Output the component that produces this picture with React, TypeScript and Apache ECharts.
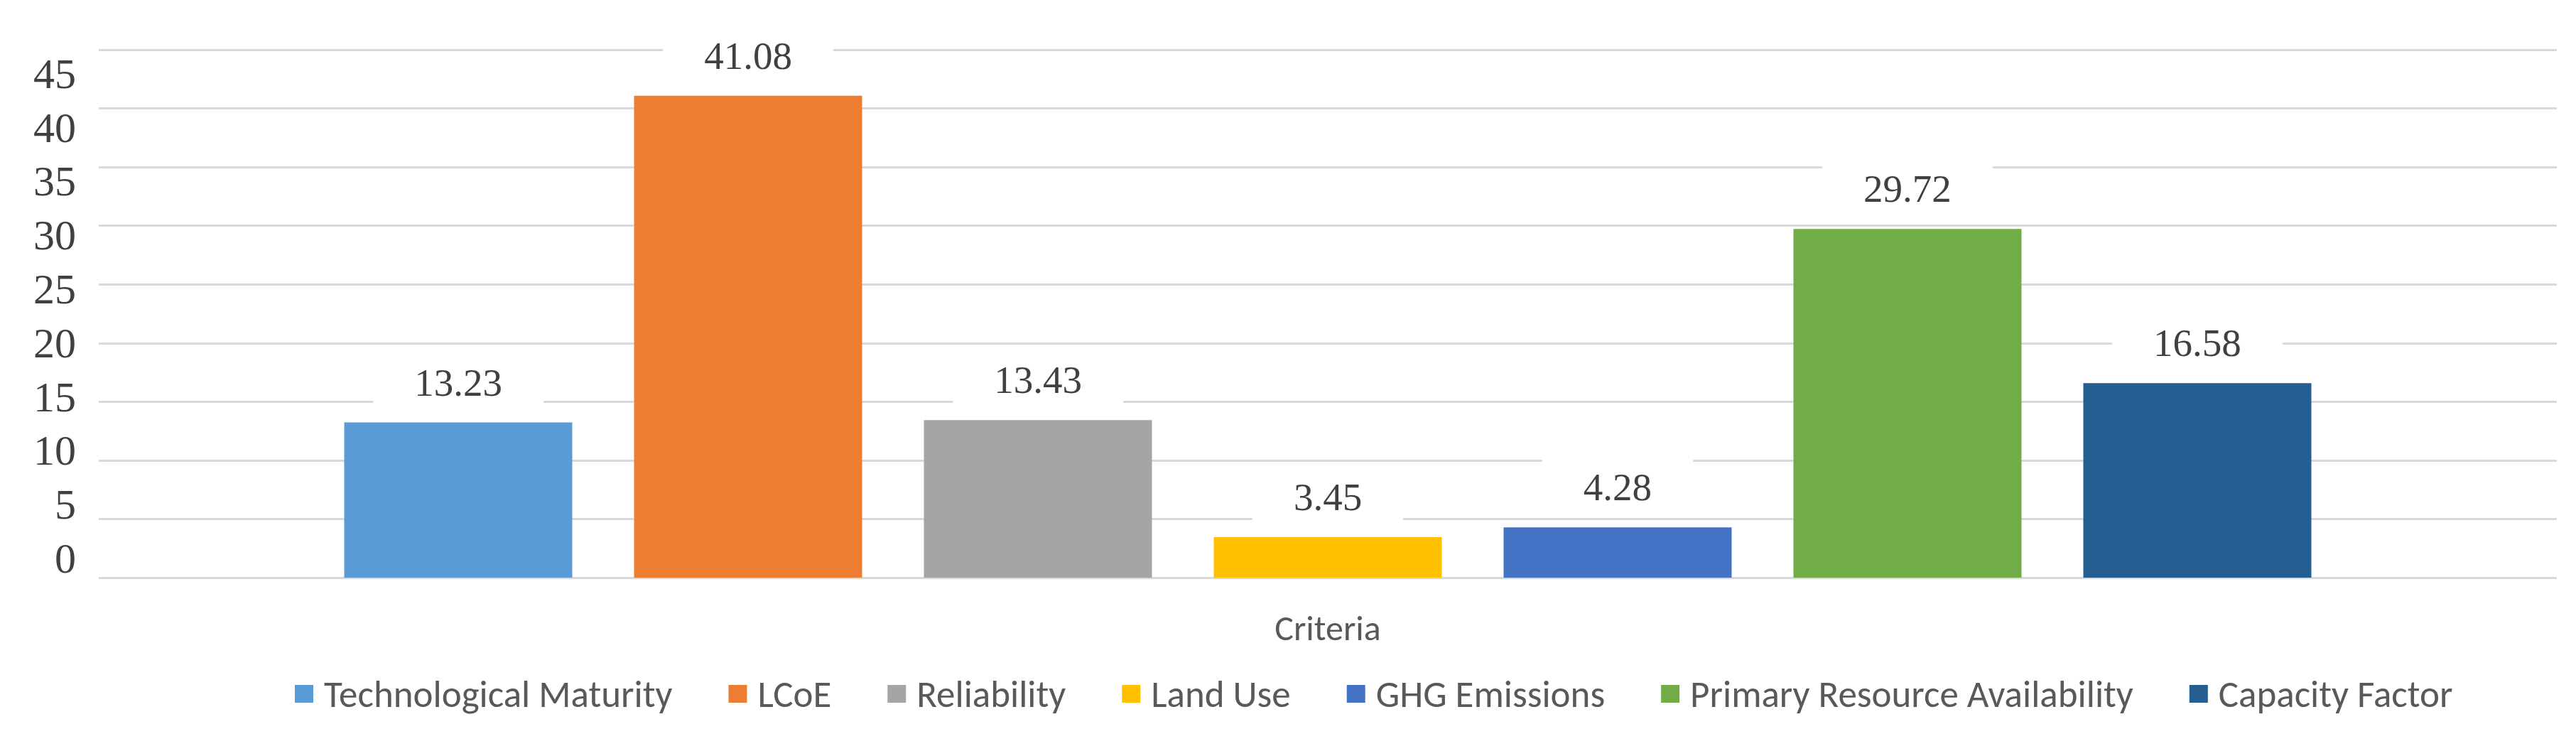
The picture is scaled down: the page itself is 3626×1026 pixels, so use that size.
import React, { useEffect, useRef } from "react";
import * as echarts from "echarts";

const categories = ["Criteria"];
const seriesNames = [
  "Technological Maturity",
  "LCoE",
  "Reliability",
  "Land Use",
  "GHG Emissions",
  "Primary Resource Availability",
  "Capacity Factor",
];
const seriesValues = [13.23, 41.08, 13.43, 3.45, 4.28, 29.72, 16.58];
const seriesColors = ["#5B9BD5", "#ED7D31", "#A5A5A5", "#FFC000", "#4472C4", "#70AD47", "#255E91"];
const yTickLabels = [0, 5, 10, 15, 20, 25, 30, 35, 40, 45];

const SERIF = "Liberation Serif";
const SANS = "Carlito";

export default function App() {
  const ref = useRef<HTMLDivElement>(null);
  useEffect(() => {
    if (!ref.current) return;
    const chart = echarts.init(ref.current, null, { renderer: "svg" });
    const option = {
      animation: false,
      backgroundColor: "#ffffff",
      textStyle: { fontFamily: SERIF },
      grid: { left: 139, right: 27, top: 70, bottom: 213, containLabel: false },
      legend: {
        left: 410,
        top: 945,
        icon: "rect",
        itemWidth: 26,
        itemHeight: 25,
        itemGap: 79,
        data: seriesNames,
        textStyle: {
          fontFamily: SANS,
          fontSize: 53,
          color: "#595959",
          padding: [0, 0, 0, 10],
          lineHeight: 53,
        },
      },
      xAxis: {
        type: "category",
        data: categories,
        axisLine: { show: false },
        axisTick: { show: false },
        axisLabel: {
          fontFamily: SANS,
          fontSize: 50,
          lineHeight: 50,
          color: "#595959",
          margin: 45,
        },
      },
      yAxis: [
        {
          type: "value",
          min: 0,
          max: 45,
          interval: 5,
          axisLine: { show: false },
          axisTick: { show: false },
          axisLabel: { show: false },
          splitLine: { show: true, lineStyle: { color: "#D9D9D9", width: 3 } },
        },
        {
          type: "value",
          position: "left",
          min: -1.78,
          max: 47.23,
          axisLine: { show: false },
          axisTick: { show: false },
          splitLine: { show: false },
          axisLabel: {
            customValues: yTickLabels,
            fontFamily: SERIF,
            fontSize: 60,
            color: "#404040",
            margin: 32,
          },
        },
      ],
      series: seriesNames.map((name, i) => ({
        name,
        type: "bar",
        yAxisIndex: 0,
        barWidth: 321,
        barGap: "27.1%",
        itemStyle: { color: seriesColors[i] },
        data: [seriesValues[i]],
        label: {
          show: true,
          position: "top",
          distance: 15,
          fontFamily: SERIF,
          fontSize: 55,
          lineHeight: 55,
          color: "#404040",
          backgroundColor: "#ffffff",
          padding: [14, 58],
          formatter: (p: any) => p.value.toFixed(2),
        },
      })),
    };
    chart.setOption(option);
    return () => chart.dispose();
  }, []);
  return (
    <div
      ref={ref}
      style={{ position: "absolute", left: 0, top: 0, width: 3626, height: 1026 }}
    />
  );
}
